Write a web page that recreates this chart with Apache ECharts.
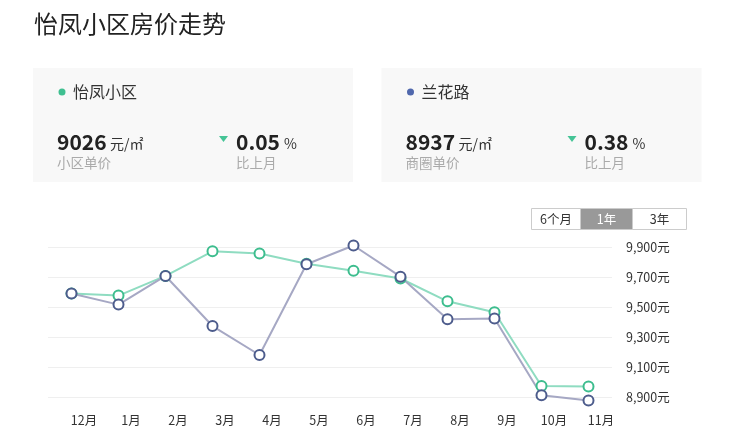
<!DOCTYPE html>
<html>
<head>
<meta charset="utf-8">
<script src="https://cdn.jsdelivr.net/npm/echarts@6/dist/echarts.min.js"></script>
<style>
html,body{margin:0;padding:0;background:#fff;}
#chart{width:730px;height:442px;}
</style>
</head>
<body>
<div id="chart"></div>
<script>
const months = ['12月','1月','2月','3月','4月','5月','6月','7月','8月','9月','10月','11月'];
const yifengValues = [9590, 9576, 9707, 9871, 9856, 9788, 9742, 9690, 9538, 9465, 8973, 8970];
const lanhualuValues = [9590, 9516, 9707, 9373, 9180, 9785, 9910, 9702, 9418, 9424, 8911, 8876];
const yTicks = [8900, 9100, 9300, 9500, 9700, 9900];
const seriesNames = ['怡凤小区', '兰花路'];
const cardPrices = ['9026', '8937'];
const cardChanges = ['0.05', '0.38'];
const cardSubLabels = ['小区单价', '商圈单价'];
const rangeButtons = ['6个月', '1年', '3年'];

const FONT = '"Noto Sans CJK SC", "Noto Sans", sans-serif';
const GREEN_LINE = '#8fdcc1';
const GREEN_MARK = '#3dbd8e';
const BLUE_LINE = '#a6a8c4';
const BLUE_MARK = '#4d5c8c';
const DOT_COLORS = ['#3fbf90', '#5068ad'];

const graphics = [];
[0, 1].forEach(i => {
  const ox = i === 0 ? 0 : 348.5;
  graphics.push({type:'rect', shape:{x: 33 + ox, y: 68, width:320, height:114}, style:{fill:'#f8f8f8'}, silent:true});
  graphics.push({type:'circle', shape:{cx: 62 + ox, cy: 92, r:3.5}, style:{fill: DOT_COLORS[i]}});
  graphics.push({type:'text', x: 73 + ox, y: 92, style:{text: seriesNames[i], font: '16px ' + FONT, fill:'#333', verticalAlign:'middle'}});
  graphics.push({type:'text', x: 57 + ox, y: 142.5, style:{text: cardPrices[i], font: 'bold 21px ' + FONT, fill:'#222', verticalAlign:'middle'}});
  graphics.push({type:'text', x: 110 + ox, y: 144, style:{text: '元/㎡', font: '14px ' + FONT, fill:'#333', verticalAlign:'middle'}});
  graphics.push({type:'text', x: 57 + ox, y: 162.5, style:{text: cardSubLabels[i], font: '13.5px ' + FONT, fill:'#aaa', verticalAlign:'middle'}});
  graphics.push({type:'polygon', shape:{points:[[219 + ox,136],[228 + ox,136],[223.5 + ox,142]]}, style:{fill:'#45c496'}});
  graphics.push({type:'text', x: 236 + ox, y: 142.5, style:{text: cardChanges[i], font: 'bold 21px ' + FONT, fill:'#222', verticalAlign:'middle'}});
  graphics.push({type:'text', x: 284 + ox, y: 144, style:{text: '%', font: '14px ' + FONT, fill:'#333', verticalAlign:'middle'}});
  graphics.push({type:'text', x: 236 + ox, y: 162.5, style:{text: '比上月', font: '13.5px ' + FONT, fill:'#aaa', verticalAlign:'middle'}});
});
const btnX = [531, 580, 632, 686];
rangeButtons.forEach((b, i) => {
  const active = i === 1;
  graphics.push({type:'rect', shape:{x: btnX[i] + 0.5, y: 208.5, width: btnX[i+1] - btnX[i], height: 21}, style:{fill: active ? '#999' : '#fff', stroke:'#ccc', lineWidth:1}});
  graphics.push({type:'text', x: (btnX[i] + btnX[i+1]) / 2 + 0.5, y: 219, style:{text: b, font: '12.5px ' + FONT, fill: active ? '#fff' : '#333', align:'center', verticalAlign:'middle'}});
});

const chart = echarts.init(document.getElementById('chart'));
chart.setOption({
  animation: false,
  backgroundColor: '#fff',
  title: {text: '怡凤小区房价走势', left: 34, top: 12, padding: 0, textStyle:{fontFamily: FONT, fontSize: 24, fontWeight: 'normal', color:'#222'}},
  graphic: graphics,
  grid: {left: 48, right: 118, top: 247, bottom: 45},
  xAxis: {
    type: 'category', data: months, boundaryGap: true,
    axisLine:{show:false}, axisTick:{show:false},
    axisLabel:{color:'#333', fontSize:12.5, fontFamily: FONT, margin: 17, padding:[0,0,0,25]}
  },
  yAxis: {
    type: 'value', position: 'right', min: yTicks[0], max: yTicks[yTicks.length-1], interval: 200,
    axisLine:{show:false}, axisTick:{show:false},
    splitLine:{lineStyle:{color:'#efefef'}},
    axisLabel:{color:'#333', fontSize:12.5, fontFamily: FONT, margin: 14,
      formatter: v => v.toLocaleString('en-US') + '元'}
  },
  series: [
    {name: seriesNames[0], type:'line', data: yifengValues, clip:false, symbol:'circle', symbolSize:10,
     lineStyle:{color: GREEN_LINE, width:2}, itemStyle:{color:'#fff', borderColor: GREEN_MARK, borderWidth:2}},
    {name: seriesNames[1], type:'line', data: lanhualuValues, clip:false, symbol:'circle', symbolSize:10,
     lineStyle:{color: BLUE_LINE, width:2}, itemStyle:{color:'#fff', borderColor: BLUE_MARK, borderWidth:2}}
  ]
});
</script>
</body>
</html>
